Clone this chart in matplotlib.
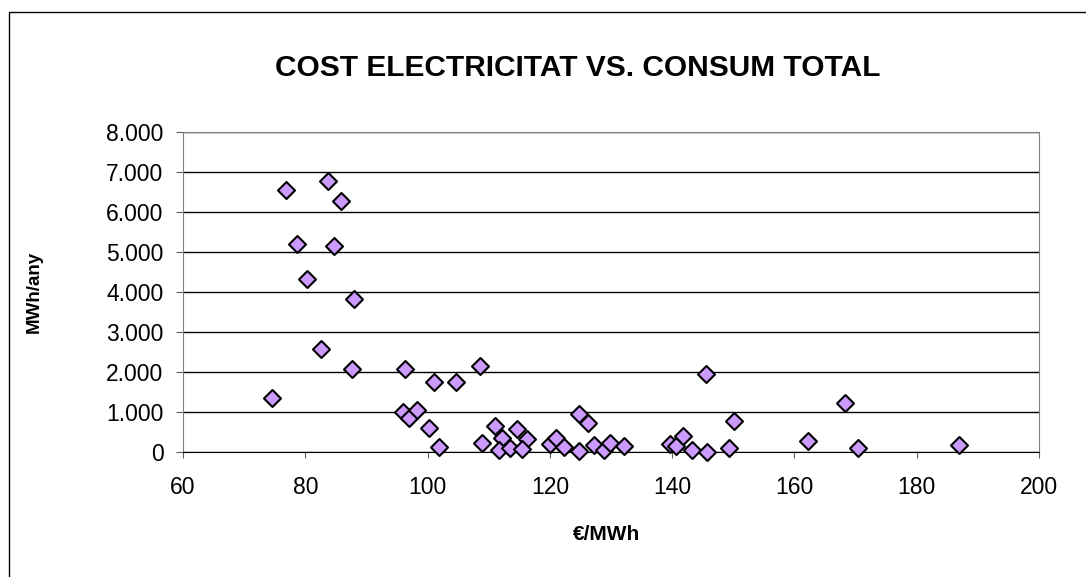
import matplotlib.pyplot as plt
from matplotlib.patches import Rectangle
from matplotlib.ticker import FuncFormatter

plt.rcParams['font.family'] = ['Liberation Sans', 'DejaVu Sans']

# --- donnees ---
cost = [74.6, 76.8, 83.7, 85.9, 78.6, 84.7, 80.3, 88.0, 82.6, 87.6,
        96.3, 101.1, 104.7, 95.9, 97.0, 98.2, 100.3, 101.8, 108.6, 108.9,
        111.0, 112.1, 111.7, 113.4, 114.7, 116.3, 115.4, 120.0, 121.0, 122.3,
        124.7, 126.3, 124.7, 127.3, 128.8, 129.9, 132.1, 139.6, 140.7, 141.8,
        143.3, 145.7, 149.3, 150.1, 145.6, 162.3, 168.3, 170.4, 186.9]
consum = [1360, 6560, 6780, 6285, 5200, 5140, 4320, 3830, 2570, 2070,
          2070, 1750, 1750, 990, 860, 1060, 600, 120, 2160, 231,
          660, 359, 43, 103, 573, 316, 85, 188, 342, 128,
          940, 726, 26, 171, 60, 214, 154, 188, 145, 402,
          43, 5, 111, 786, 1958, 274, 1222, 103, 170]

x_ticks = [60, 80, 100, 120, 140, 160, 180, 200]
y_ticks = [0, 1000, 2000, 3000, 4000, 5000, 6000, 7000, 8000]

fig = plt.figure(figsize=(10.86, 5.77), dpi=100)
ax = fig.add_axes([183 / 1086, 1 - 452 / 577, 856 / 1086, 320 / 577])

# cadre exterieur (coupe a droite et en bas)
fig.patches.append(Rectangle((8.5 / 1086, -0.2), 1.5, 1.2 - 12 / 577,
                             transform=fig.transFigure, fill=False,
                             edgecolor='black', linewidth=1.0))

ax.scatter(cost, consum, marker='D', s=75, facecolor='#CC99FF',
           edgecolor='black', linewidth=1.5, zorder=3, clip_on=False)

ax.set_xlim(60, 200)
ax.set_ylim(0, 8000)
ax.set_xticks(x_ticks)
ax.set_yticks(y_ticks)
ax.yaxis.set_major_formatter(FuncFormatter(
    lambda v, p: '0' if v == 0 else f'{int(v):,}'.replace(',', '.')))
ax.grid(axis='y', color='black', linewidth=1.0)
ax.set_axisbelow(True)

for side in ['top', 'right', 'left']:
    ax.spines[side].set_color('#808080')
ax.spines['bottom'].set_color('black')
ax.tick_params(labelsize=16.5, color='#606060')
ax.tick_params(axis='y', length=5, pad=9)
ax.tick_params(axis='x', length=4, pad=13)

fig.text(578 / 1086, 1 - 68 / 577, 'COST ELECTRICITAT VS. CONSUM TOTAL',
         fontsize=21.5, fontweight='bold', ha='center', va='center')
ax.set_xlabel('€/MWh', fontsize=15, fontweight='bold')
ax.set_ylabel('MWh/any', fontsize=13.5, fontweight='bold')
ax.xaxis.set_label_coords((607 - 183) / 856, (452 - 525) / 320)
ax.yaxis.set_label_coords((43 - 183) / 856, 0.5)

fig.savefig('out.png', dpi=100)
